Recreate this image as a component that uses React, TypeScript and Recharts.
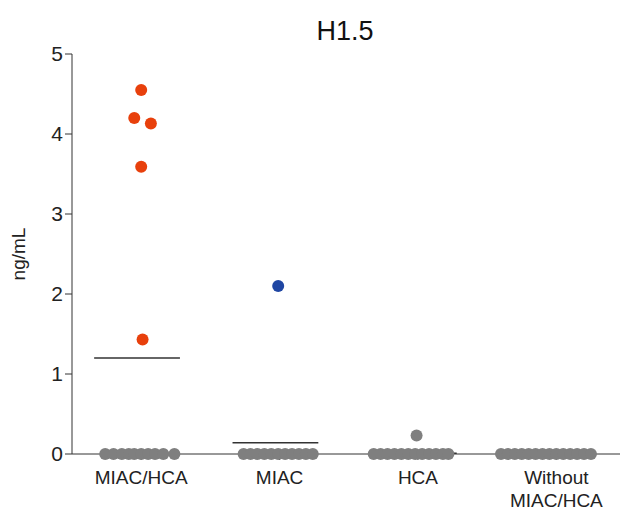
import React from "react";
import {
  ScatterChart,
  Scatter,
  XAxis,
  YAxis,
  ReferenceLine,
  Label,
} from "recharts";

const categories = ["MIAC/HCA", "MIAC", "HCA", "Without\nMIAC/HCA"];
const yTicks = [0, 1, 2, 3, 4, 5];

// x = group index + jitter, y = ng/mL
const redPoints = [
  { x: 0.0, y: 4.55 },
  { x: -0.05, y: 4.2 },
  { x: 0.07, y: 4.13 },
  { x: 0.0, y: 3.59 },
  { x: 0.01, y: 1.43 },
];
const bluePoints = [{ x: 0.99, y: 2.1 }];
const grayPoints = [
  { x: -0.26, y: 0 }, { x: -0.2, y: 0 }, { x: -0.14, y: 0 }, { x: -0.09, y: 0 },
  { x: -0.05, y: 0 }, { x: 0.0, y: 0 }, { x: 0.05, y: 0 }, { x: 0.1, y: 0 },
  { x: 0.16, y: 0 }, { x: 0.24, y: 0 },
  { x: 0.74, y: 0 }, { x: 0.79, y: 0 }, { x: 0.84, y: 0 }, { x: 0.89, y: 0 },
  { x: 0.94, y: 0 }, { x: 0.99, y: 0 }, { x: 1.04, y: 0 }, { x: 1.09, y: 0 },
  { x: 1.14, y: 0 }, { x: 1.19, y: 0 }, { x: 1.24, y: 0 },
  { x: 1.68, y: 0 }, { x: 1.73, y: 0 }, { x: 1.78, y: 0 }, { x: 1.83, y: 0 },
  { x: 1.88, y: 0 }, { x: 1.93, y: 0 }, { x: 1.98, y: 0 }, { x: 2.03, y: 0 },
  { x: 2.08, y: 0 }, { x: 2.13, y: 0 }, { x: 2.18, y: 0 }, { x: 2.22, y: 0 },
  { x: 1.99, y: 0.23 },
  { x: 2.6, y: 0 }, { x: 2.65, y: 0 }, { x: 2.7, y: 0 }, { x: 2.75, y: 0 },
  { x: 2.8, y: 0 }, { x: 2.85, y: 0 }, { x: 2.9, y: 0 }, { x: 2.95, y: 0 },
  { x: 3.0, y: 0 }, { x: 3.05, y: 0 }, { x: 3.1, y: 0 }, { x: 3.15, y: 0 },
  { x: 3.2, y: 0 }, { x: 3.25, y: 0 },
];
const means = [
  { g: 0, y: 1.2 },
  { g: 1, y: 0.14 },
  { g: 2, y: 0.01 },
];

const dot = (fill: string) => (p: any) => (
  <circle cx={p.cx} cy={p.cy} r={6} fill={fill} />
);

const CatTick = (p: any) => {
  const lines = categories[p.payload.value].split("\n");
  return (
    <text x={p.x} y={p.y + 22} textAnchor="middle" fontSize={19} fill="#222">
      {lines.map((l, i) => (
        <tspan key={i} x={p.x} dy={i === 0 ? 0 : 23}>{l}</tspan>
      ))}
    </text>
  );
};

export default function App() {
  return (
    <div style={{ position: "absolute", left: 0, top: 0, fontFamily: "Arial, Liberation Sans, sans-serif" }}>
      <ScatterChart width={620} height={511} margin={{ top: 54, right: 0, bottom: 27, left: 0 }}>
        <text x={345} y={40} textAnchor="middle" fontSize={27} fill="#111">H1.5</text>
        <XAxis
          type="number"
          dataKey="x"
          domain={[-0.5, 3.46]}
          ticks={[0, 1, 2, 3]}
          tick={<CatTick />}
          tickSize={6}
          stroke="#333"
          allowDataOverflow
        />
        <YAxis
          type="number"
          dataKey="y"
          domain={[0, 5]}
          ticks={yTicks}
          width={72}
          tickSize={7}
          stroke="#333"
          tick={{ fontSize: 21, fill: "#222" }}
        >
          <Label value="ng/mL" angle={-90} position="insideLeft" offset={18} style={{ fontSize: 19, fill: "#222", textAnchor: "middle" }} />
        </YAxis>
        {means.map((m) => (
          <ReferenceLine
            key={m.g}
            segment={[{ x: m.g - 0.34, y: m.y }, { x: m.g + 0.28, y: m.y }]}
            stroke="#333"
            strokeWidth={1.5}
          />
        ))}
        <Scatter data={grayPoints} shape={dot("#7f7f7f")} isAnimationActive={false} />
        <Scatter data={redPoints} shape={dot("#e8400c")} isAnimationActive={false} />
        <Scatter data={bluePoints} shape={dot("#1f46a3")} isAnimationActive={false} />
      </ScatterChart>
    </div>
  );
}
